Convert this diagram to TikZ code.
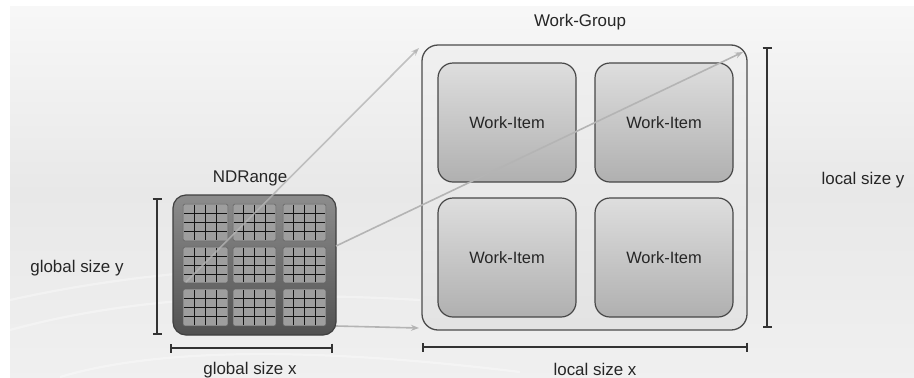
\documentclass[tikz,border=0pt]{standalone}
\usepackage{fontspec}
\setmainfont{Liberation Sans}
\usetikzlibrary{arrows.meta,shapes.misc}
\definecolor{txt}{HTML}{262626}
\definecolor{linegray}{HTML}{B4B4B4}
\definecolor{barcol}{HTML}{333333}
\tikzset{
  lbl/.style={font=\fontsize{17}{19}\selectfont, text=txt, inner sep=0pt},
  ndbox/.style={draw=black!75, line width=1.2bp, rounded corners=13bp, top color=black!45, bottom color=black!68,
    minimum width=163bp, minimum height=140bp, inner sep=0pt, outer sep=0pt},
  subblk/.style={fill=black!38, draw=black!60, line width=0.6bp, rounded corners=1.5bp,
    inner sep=0pt, outer sep=0pt},
  gridln/.style={black!92, line width=0.95bp},
  wgbox/.style={draw=black!70, line width=1.3bp, rounded corners=16bp, top color=black!6, bottom color=black!11,
    minimum width=325bp, minimum height=285bp, inner sep=0pt, outer sep=0pt},
  wibox/.style={draw=black!72, line width=1.2bp, rounded corners=15bp, top color=black!13, bottom color=black!31,
    minimum width=138bp, minimum height=119bp, inner sep=0pt, outer sep=0pt,
    font=\fontsize{16.5}{19}\selectfont, text=txt},
  dimbar/.style={draw=barcol, line width=1.8bp, {Bar[width=9bp,line width=1.6bp]}-{Bar[width=9bp,line width=1.6bp]}},
  maparrow/.style={draw=linegray, line width=1.6bp, -{Stealth[length=8bp,width=6bp]}},
  swoosh/.style={white, line width=2.2bp, opacity=0.35},
}
\begin{document}
\begin{tikzpicture}[x=1bp,y=-1bp]
\useasboundingbox (0,0) rectangle (914,377);
% background
\fill[white] (0,0) rectangle (914,377);
\shade[top color=white!97!black, bottom color=white!94!black, middle color=white!91!black] (10,6) rectangle (914,377);
\draw[swoosh] (10,330) .. controls (120,300) and (250,290) .. (420,300);
\draw[swoosh] (10,300) .. controls (100,280) and (200,268) .. (330,265);
\draw[swoosh] (60,377) .. controls (150,350) and (300,345) .. (520,372);

% NDRange
\node[ndbox] (nd) at (254.5,265) {};
\node[lbl, anchor=center] (ndlbl) at (250,178) {NDRange};
\foreach \i/\xa/\xb in {0/183/228,1/233/276,2/283/326}{
  \foreach \j/\ya/\yb in {0/204/241,1/247/283,2/289/326}{
    \node[subblk, minimum width={\xb-\xa}, minimum height={\yb-\ya}] (b\i\j) at ({(\xa+\xb)/2},{(\ya+\yb)/2}) {};
    \foreach \k in {1,2,3}{
      \draw[gridln] ({\xa+\k*(\xb-\xa)/4},\ya+1) -- ({\xa+\k*(\xb-\xa)/4},\yb-1);
      \draw[gridln] (\xa+1,{\ya+\k*(\yb-\ya)/4}) -- (\xb-1,{\ya+\k*(\yb-\ya)/4});
    }
  }
}

% Work-Group
\node[wgbox] (wg) at (584.5,187.5) {};
\node[lbl] (wglbl) at (580,22) {Work-Group};
\node[wibox] (wi1) at (507,122.5) {Work-Item};
\node[wibox] (wi2) at (664,122.5) {Work-Item};
\node[wibox] (wi3) at (507,257.5) {Work-Item};
\node[wibox] (wi4) at (664,257.5) {Work-Item};

% mapping arrows
\coordinate (s1) at (186,282);
\coordinate (e1) at (419,48);
\coordinate (s2) at (336,246);
\coordinate (e2) at (743,52);
\coordinate (s3) at (336,326);
\coordinate (e3) at (419,328);
\draw[maparrow, draw opacity=0.8] (s1) -- (e1);
\draw[maparrow] (s2) -- (e2);
\draw[maparrow] (s3) -- (e3);

% dimension bars
\coordinate (gyt) at (157,198);
\coordinate (gyb) at (157,335);
\coordinate (gxl) at (170,348);
\coordinate (gxr) at (333,348);
\coordinate (lxl) at (422,347);
\coordinate (lxr) at (748,347);
\coordinate (lyt) at (767,47);
\coordinate (lyb) at (767,328);
\draw[dimbar] (gyt) -- (gyb);
\draw[dimbar] (gxl) -- (gxr);
\draw[dimbar] (lxl) -- (lxr);
\draw[dimbar] (lyt) -- (lyb);

\node[lbl] (gy) at (77,268) {global size y};
\node[lbl] (gx) at (250,370) {global size x};
\node[lbl] (lx) at (595,369) {local size x};
\node[lbl] (ly) at (863,180) {local size y};
\end{tikzpicture}
\end{document}
